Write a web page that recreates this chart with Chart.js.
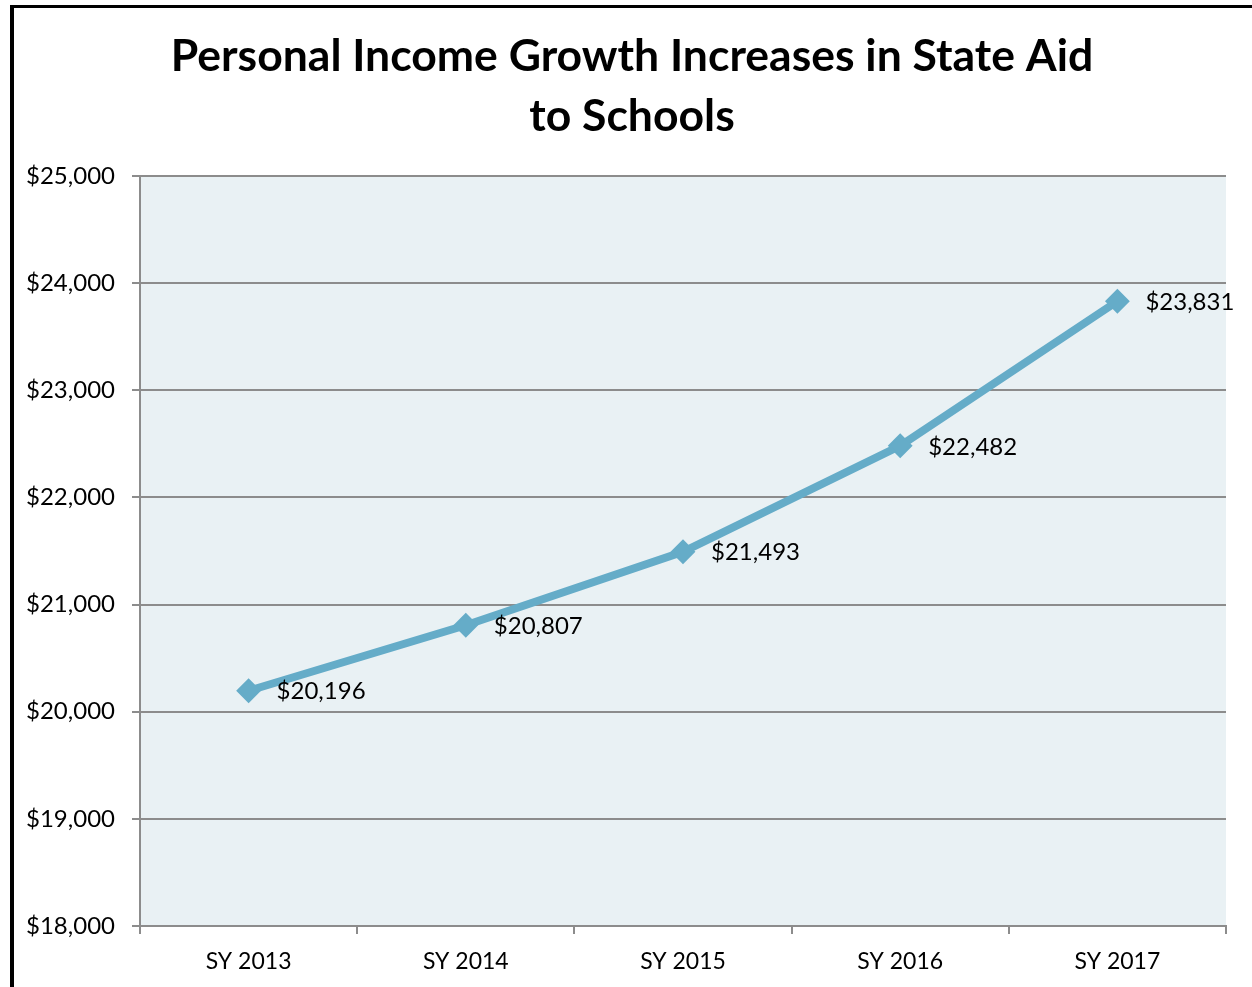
<!DOCTYPE html>
<html>
<head>
<meta charset="utf-8">
<title>Personal Income Growth Increases in State Aid to Schools</title>
<script src="https://cdn.jsdelivr.net/npm/chart.js@4.4.1/dist/chart.umd.min.js"></script>
<style>
  html, body { margin: 0; padding: 0; background: #fff; }
  #wrap { width: 1252px; height: 987px; }
</style>
</head>
<body>
<div id="wrap"><canvas id="incomeChart" width="1252" height="987"></canvas></div>
<script>
// school years and income values
const years = ["SY 2013", "SY 2014", "SY 2015", "SY 2016", "SY 2017"];
const income = [20196, 20807, 21493, 22482, 23831];

// y axis range
const yMin = 18000;
const yMax = 25000;
const yStep = 1000;

const lineColor = "#65acc8";
const gridColor = "#8c8c8c";
const fontFamily = "Lato, 'Noto Sans', sans-serif";

function dollars(v) {
  return "$" + Number(v).toLocaleString("en-US");
}

// white page, black frame on the left and top, tinted plot area
const frame = {
  id: "frame",
  afterLayout(chart) {
    // center the title over the framed box rather than the whole canvas
    if (chart.titleBlock) chart.titleBlock.left = 38;
  },
  beforeDraw(chart) {
    const ctx = chart.ctx;
    const a = chart.chartArea;
    ctx.save();
    ctx.fillStyle = "#fff";
    ctx.fillRect(0, 0, chart.width, chart.height);
    ctx.fillStyle = "#e9f1f4";
    ctx.fillRect(a.left, a.top, a.right - a.left, a.bottom - a.top);
    ctx.fillStyle = "#000";
    ctx.fillRect(10, 5, 4, chart.height - 5);
    ctx.fillRect(10, 5, chart.width - 10, 3);
    ctx.restore();
  }
};

// value labels to the right of each point
const pointLabels = {
  id: "pointLabels",
  afterDatasetsDraw(chart) {
    const ctx = chart.ctx;
    const meta = chart.getDatasetMeta(0);
    ctx.save();
    ctx.font = "24px " + fontFamily;
    ctx.fillStyle = "#000";
    ctx.textAlign = "left";
    ctx.textBaseline = "middle";
    meta.data.forEach((pt, i) => {
      ctx.fillText(dollars(income[i]), pt.x + 28, pt.y + 1);
    });
    ctx.restore();
  }
};

function drawChart() {
  const ctx = document.getElementById("incomeChart").getContext("2d");
  new Chart(ctx, {
    type: "line",
    data: {
      labels: years,
      datasets: [{
        data: income,
        borderColor: lineColor,
        backgroundColor: lineColor,
        borderWidth: 8,
        tension: 0,
        pointStyle: "rectRot",
        pointRadius: 11,
        pointBorderWidth: 2,
        pointBackgroundColor: lineColor,
        pointBorderColor: lineColor
      }]
    },
    options: {
      responsive: false,
      animation: false,
      layout: { padding: { left: 0, right: 26, top: 0, bottom: 0 } },
      plugins: {
        legend: { display: false },
        tooltip: { enabled: false },
        title: {
          display: true,
          text: ["Personal Income Growth Increases in State Aid", "to Schools"],
          color: "#000",
          font: { family: fontFamily, size: 44.5, weight: "bold", lineHeight: 60 / 44.5 },
          padding: { top: 27, bottom: 29 }
        }
      },
      scales: {
        x: {
          offset: true,
          afterFit(scale) { scale.height = 61; },
          grid: {
            offset: true,
            drawOnChartArea: false,
            drawTicks: true,
            tickLength: 8,
            color: gridColor,
            lineWidth: 2
          },
          border: { display: true, color: gridColor, width: 2 },
          ticks: {
            color: "#000",
            padding: 14,
            font: { family: fontFamily, size: 23 }
          }
        },
        y: {
          min: yMin,
          max: yMax,
          afterFit(scale) { scale.width = 140; },
          grid: {
            color: gridColor,
            lineWidth: 2,
            drawTicks: true,
            tickLength: 8
          },
          border: { display: true, color: gridColor, width: 2 },
          ticks: {
            stepSize: yStep,
            color: "#000",
            padding: 17,
            font: { family: fontFamily, size: 24 },
            callback: (v) => dollars(v)
          }
        }
      }
    },
    plugins: [frame, pointLabels]
  });
}

document.fonts.load("bold 44px Lato").then(drawChart, drawChart);
</script>
</body>
</html>
